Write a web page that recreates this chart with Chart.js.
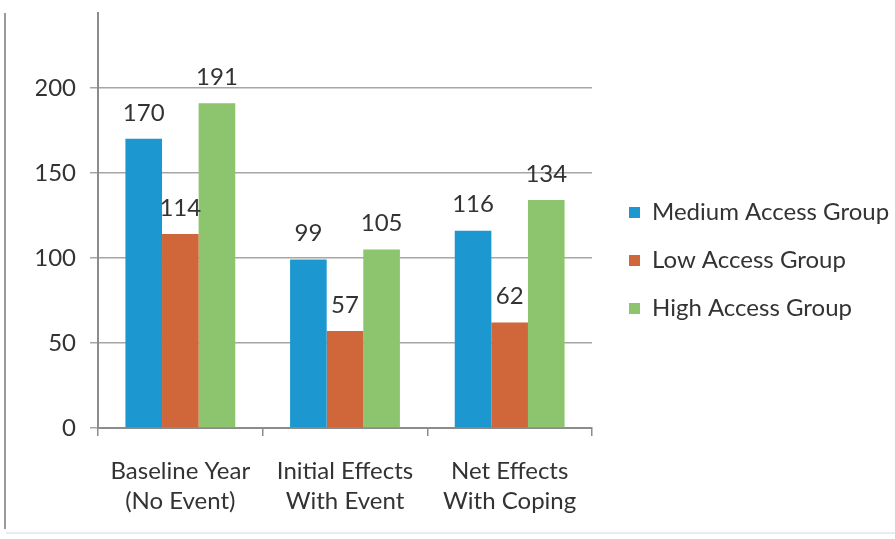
<!DOCTYPE html>
<html>
<head>
<meta charset="utf-8">
<script src="https://cdn.jsdelivr.net/npm/chart.js@4.4.0/dist/chart.umd.min.js"></script>
<style>
  html, body { margin: 0; padding: 0; background: #ffffff; }
  #wrap { width: 895px; height: 539px; position: relative; }
</style>
</head>
<body>
<div id="wrap"><canvas id="c" width="895" height="539"></canvas></div>
<script>
// Categories (two-line labels) and series values
const categories = [
  ['Baseline Year', '(No Event)'],
  ['Initial Effects', 'With Event'],
  ['Net Effects', 'With Coping']
];
const mediumAccess = [170, 99, 116];
const lowAccess = [114, 57, 62];
const highAccess = [191, 105, 134];
const yTicks = [0, 50, 100, 150, 200];

const FONT = 'Lato, "Open Sans", sans-serif';
const TEXT = '#333333';
const FS = 24;

// Value labels above each bar
const valueLabels = {
  id: 'valueLabels',
  afterDatasetsDraw(chart) {
    const ctx = chart.ctx;
    ctx.save();
    ctx.font = FS + 'px ' + FONT;
    ctx.fillStyle = TEXT;
    ctx.textAlign = 'center';
    ctx.textBaseline = 'middle';
    chart.data.datasets.forEach((ds, i) => {
      chart.getDatasetMeta(i).data.forEach((bar, j) => {
        ctx.fillText(String(ds.data[j]), bar.x, bar.y - 26);
      });
    });
    ctx.restore();
  }
};

// Legend sits in a fixed-width column to the right of the plot
const legendColumn = {
  id: 'legendColumn',
  afterInit(chart) {
    const legend = chart.legend;
    const fit = legend.fit;
    legend.fit = function () {
      fit.call(this);
      this.width = 303;
    };
  },
  afterLayout(chart) {
    const legend = chart.legend;
    legend.left += 13; legend.right += 13;
    legend.top -= 9; legend.bottom -= 9;
  }
};

// Thin frame along the left and bottom of the figure
const frame = {
  id: 'frame',
  beforeDraw(chart) {
    const ctx = chart.ctx;
    ctx.save();
    ctx.strokeStyle = '#9a9a9a';
    ctx.lineWidth = 2;
    ctx.beginPath();
    ctx.moveTo(5, 13);
    ctx.lineTo(5, 529);
    ctx.stroke();
    ctx.strokeStyle = '#e4e4e4';
    ctx.lineWidth = 1.5;
    ctx.beginPath();
    ctx.moveTo(6, 533);
    ctx.lineTo(895, 533);
    ctx.stroke();
    ctx.restore();
  }
};

new Chart(document.getElementById('c'), {
  type: 'bar',
  data: {
    labels: categories,
    datasets: [
      { label: 'Medium Access Group', data: mediumAccess, backgroundColor: '#1c97d0' },
      { label: 'Low Access Group', data: lowAccess, backgroundColor: '#d0673a' },
      { label: 'High Access Group', data: highAccess, backgroundColor: '#8cc56d' }
    ]
  },
  options: {
    responsive: false,
    animation: false,
    devicePixelRatio: 1,
    layout: { padding: { left: 36, top: 0, right: 0, bottom: 0 } },
    datasets: { bar: { categoryPercentage: 0.667, barPercentage: 1.0 } },
    plugins: {
      legend: {
        position: 'right',
        align: 'center',
        labels: {
          font: { family: FONT, size: FS },
          color: TEXT,
          boxWidth: 11,
          boxHeight: 11,
          padding: 24
        }
      },
      tooltip: { enabled: false }
    },
    scales: {
      x: {
        offset: true,
        grid: {
          offset: true,
          drawOnChartArea: false,
          color: '#8c8c8c',
          tickLength: 8,
          lineWidth: 1.5
        },
        border: { color: '#8c8c8c', width: 2 },
        ticks: {
          font: { family: FONT, size: FS, lineHeight: 1.25 },
          color: TEXT,
          padding: 20
        },
        afterFit(scale) { scale.height = 111; }
      },
      y: {
        min: 0,
        max: 244,
        afterBuildTicks(scale) { scale.ticks = yTicks.map(v => ({ value: v })); },
        grid: { color: '#a6a6a6', lineWidth: 1.5, tickLength: 8 },
        border: { color: '#8c8c8c', width: 2 },
        ticks: {
          font: { family: FONT, size: FS },
          color: TEXT,
          padding: 14
        },
        afterFit(scale) {
          scale.width = 62;
          scale.paddingTop = 13;
          scale.paddingBottom = 0;
        }
      }
    }
  },
  plugins: [valueLabels, legendColumn, frame]
});
</script>
</body>
</html>
